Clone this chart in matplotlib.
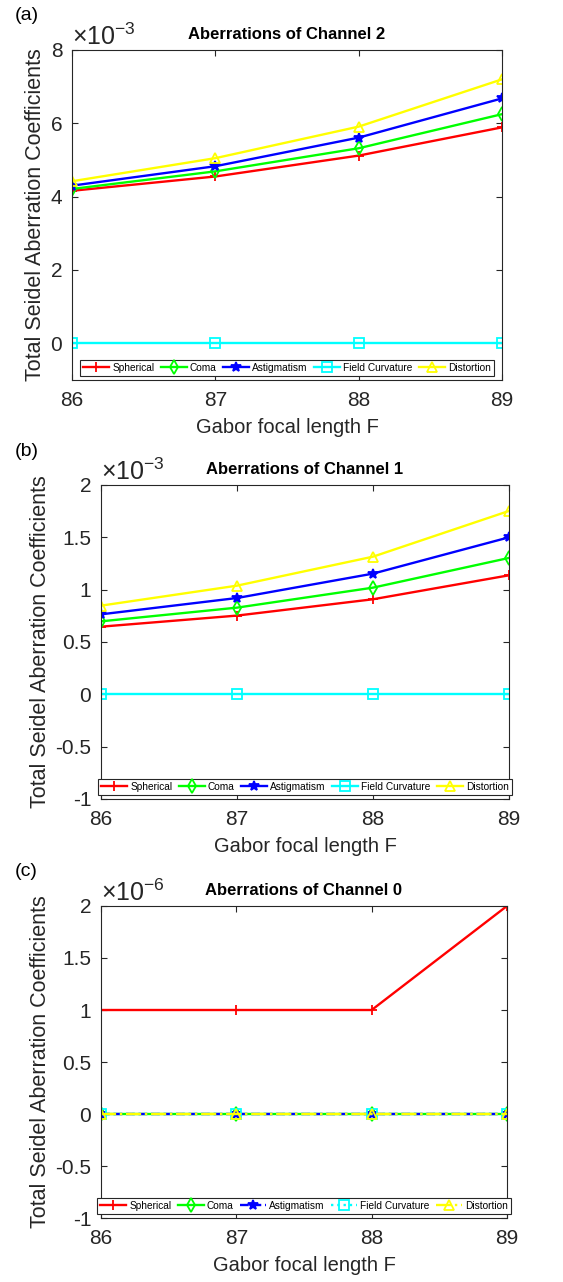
import numpy as np
import matplotlib
matplotlib.use("Agg")
import matplotlib.pyplot as plt
from matplotlib.ticker import FuncFormatter

plt.rcParams['font.family'] = ['Liberation Sans', 'DejaVu Sans']
plt.rcParams['mathtext.fontset'] = 'custom'
plt.rcParams['mathtext.rm'] = 'Liberation Sans'
plt.rcParams['mathtext.it'] = 'Liberation Sans'
plt.rcParams['mathtext.default'] = 'regular'

F = [86, 87, 88, 89]
names = ['Spherical', 'Coma', 'Astigmatism', 'Field Curvature', 'Distortion']

# channel 2 (x1e-3)
ch2_sph = [4.16e-3, 4.55e-3, 5.12e-3, 5.89e-3]
ch2_coma = [4.21e-3, 4.69e-3, 5.32e-3, 6.25e-3]
ch2_ast = [4.30e-3, 4.83e-3, 5.61e-3, 6.68e-3]
ch2_fc = [0, 0, 0, 0]
ch2_dist = [4.42e-3, 5.05e-3, 5.91e-3, 7.20e-3]

# channel 1 (x1e-3)
ch1_sph = [0.646e-3, 0.752e-3, 0.908e-3, 1.137e-3]
ch1_coma = [0.697e-3, 0.828e-3, 1.019e-3, 1.303e-3]
ch1_ast = [0.764e-3, 0.920e-3, 1.153e-3, 1.500e-3]
ch1_fc = [0, 0, 0, 0]
ch1_dist = [0.847e-3, 1.038e-3, 1.315e-3, 1.752e-3]

# channel 0 (x1e-6)
ch0_sph = [1e-6, 1e-6, 1e-6, 2e-6]
ch0_coma = [0, 0, 0, 0]
ch0_ast = [0, 0, 0, 0]
ch0_fc = [0, 0, 0, 0]
ch0_dist = [0, 0, 0, 0]

colors = ['#ff0000', '#00ff00', '#0000ff', '#00ffff', '#ffff00']
markers = ['+', 'd', '*', 's', '^']

fig = plt.figure(figsize=(5.63, 12.82), dpi=100)

panels = [
    ([0.1279, 0.7036, 0.7638, 0.2574], [ch2_sph, ch2_coma, ch2_ast, ch2_fc, ch2_dist],
     1e-3, -3, (-1e-3, 8e-3), [0, 2e-3, 4e-3, 6e-3, 8e-3], 'Aberrations of Channel 2',
     ['-'] * 5, '(a)', 15),
    ([0.1794, 0.3768, 0.7247, 0.2449], [ch1_sph, ch1_coma, ch1_ast, ch1_fc, ch1_dist],
     1e-3, -3, (-1e-3, 2e-3), list(np.arange(-1, 2.01, 0.5) * 1e-3), 'Aberrations of Channel 1',
     ['-'] * 5, '(b)', 452),
    ([0.1794, 0.0499, 0.7211, 0.2434], [ch0_sph, ch0_coma, ch0_ast, ch0_fc, ch0_dist],
     1e-6, -6, (-1e-6, 2e-6), list(np.arange(-1, 2.01, 0.5) * 1e-6), 'Aberrations of Channel 0',
     ['-', '-', '--', ':', '-.'], '(c)', 872),
]

for rect, series, scale, expo, ylim, yt, title, styles, lab, ly in panels:
    ax = fig.add_axes(rect)
    for vals, c, m, ls, nm in zip(series, colors, markers, styles, names):
        mfc = c if m == '*' else 'none'
        ax.plot(F, vals, color=c, marker=m, linestyle=ls, linewidth=1.7,
                markersize=7.5, markerfacecolor=mfc, markeredgewidth=1.3, label=nm)
    ax.set_xlim(86, 89)
    ax.set_ylim(*ylim)
    ax.set_xticks(F)
    ax.set_yticks(yt)
    ax.yaxis.set_major_formatter(FuncFormatter(lambda v, p, s=scale: '%g' % round(v / s, 6)))
    ax.tick_params(direction='in', top=True, right=True, labelsize=15, length=4,
                   color='#262626', labelcolor='#262626')
    ax.tick_params(axis='x', pad=8)
    ax.tick_params(axis='y', pad=7)
    for sp in ax.spines.values():
        sp.set_color('#262626')
        sp.set_linewidth(0.8)
    ax.set_xlabel('Gabor focal length F', fontsize=14.5, color='#262626', labelpad=6)
    ax.set_ylabel('Total Seidel Aberration Coefficients', fontsize=15.5, color='#262626', labelpad=3)
    ax.set_title(title, fontsize=12, fontweight='bold', pad=8)
    ax.text(0.0, 1.0, r'$\times10^{\mathrm{-%d}}$' % (-expo), transform=ax.transAxes,
            fontsize=18, color='#262626', ha='left', va='bottom')
    leg = ax.legend(loc='lower center', ncol=5, fontsize=7.3, handlelength=2.6,
                    handletextpad=0.3, columnspacing=0.6, borderaxespad=0.4,
                    borderpad=0.3, fancybox=False, framealpha=1)
    leg.get_frame().set_edgecolor('#262626')
    leg.get_frame().set_linewidth(0.8)
    fig.text(0.027, 1 - ly / 1282, lab, fontsize=14, va='center', ha='left')

fig.savefig('out.png', dpi=100)
